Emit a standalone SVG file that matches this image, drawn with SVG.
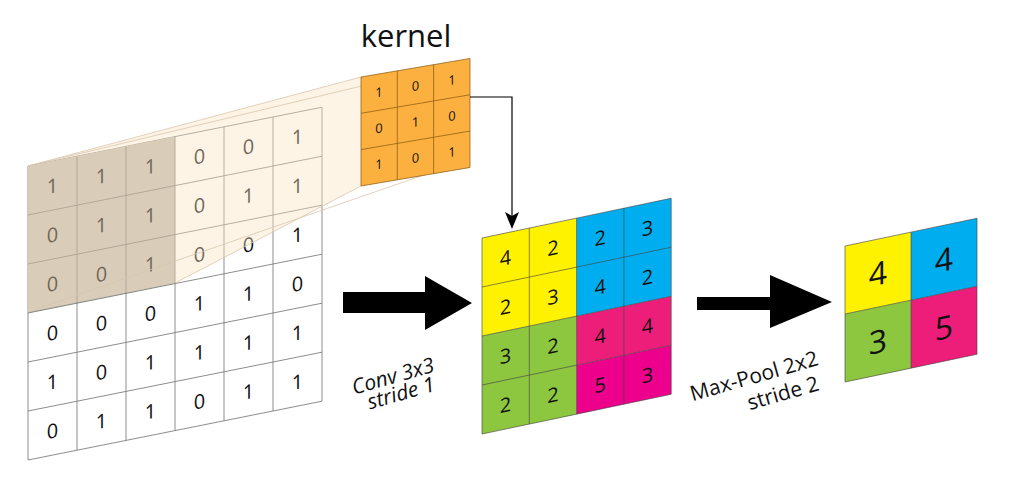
<svg xmlns="http://www.w3.org/2000/svg" width="1024" height="479" viewBox="0 0 1024 479">
<style>
.g{stroke:#777;stroke-width:0.8}
.k{stroke:#8a5a10;stroke-width:0.7}
.c{stroke:#444;stroke-width:0.6}
text{font-family:"Open Sans","DejaVu Sans",sans-serif;text-anchor:middle;fill:#111}
.lbl{font-family:"Liberation Serif",serif;font-size:21px}
</style>
<rect width="1024" height="479" fill="#fff"/>
<g id="input" transform="matrix(1,-0.2,0,1,28,166)">
<rect width="294" height="294" fill="#fff" class="g"/>
<rect width="147" height="147" fill="#c4bcb2"/>
<g class="g" fill="none">
<path d="M49 0V294M98 0V294M147 0V294M196 0V294M245 0V294M0 49H294M0 98H294M0 147H294M0 196H294M0 245H294"/>
</g>
<g font-size="20">
<text x="24.5" y="32">1</text><text x="73.5" y="32">1</text><text x="122.5" y="32">1</text><text x="171.5" y="32">0</text><text x="220.5" y="32">0</text><text x="269.5" y="32">1</text>
<text x="24.5" y="81">0</text><text x="73.5" y="81">1</text><text x="122.5" y="81">1</text><text x="171.5" y="81">0</text><text x="220.5" y="81">1</text><text x="269.5" y="81">1</text>
<text x="24.5" y="130">0</text><text x="73.5" y="130">0</text><text x="122.5" y="130">1</text><text x="171.5" y="130">0</text><text x="220.5" y="130">0</text><text x="269.5" y="130">1</text>
<text x="24.5" y="179">0</text><text x="73.5" y="179">0</text><text x="122.5" y="179">0</text><text x="171.5" y="179">1</text><text x="220.5" y="179">1</text><text x="269.5" y="179">0</text>
<text x="24.5" y="228">1</text><text x="73.5" y="228">0</text><text x="122.5" y="228">1</text><text x="171.5" y="228">1</text><text x="220.5" y="228">1</text><text x="269.5" y="228">1</text>
<text x="24.5" y="277">0</text><text x="73.5" y="277">1</text><text x="122.5" y="277">1</text><text x="171.5" y="277">0</text><text x="220.5" y="277">1</text><text x="269.5" y="277">1</text>
</g>
</g>
<g id="projection">
<polygon points="28,166 361,77 361,186 175,283 28,312" fill="#fbe3c0" opacity="0.4"/>
<path d="M28,166L361,77M28,166L470,60M28,312L470,159M175,283L361,186" stroke="#d9c6ad" stroke-width="0.8" fill="none"/>
</g>
<g id="kernel" transform="matrix(1,-0.17,0,1,361,77)">
<rect width="109" height="109" fill="#fbb040" class="k"/>
<path class="k" d="M36.3 0V109M72.6 0V109M0 36.3H109M0 72.6H109"/>
<g font-size="13">
<text x="18" y="23">1</text><text x="54.5" y="23">0</text><text x="91" y="23">1</text>
<text x="18" y="59">0</text><text x="54.5" y="59">1</text><text x="91" y="59">0</text>
<text x="18" y="95">1</text><text x="54.5" y="95">0</text><text x="91" y="95">1</text>
</g>
</g>
<text x="406" y="47" font-family="Liberation Serif,serif" font-size="31" style="text-anchor:middle">kernel</text>
<g id="conv" transform="matrix(1,-0.21,0,1,482,238)">
<rect x="0" y="0" width="94.6" height="98" fill="#fff200"/>
<rect x="94.6" y="0" width="94.6" height="98" fill="#00aeef"/>
<rect x="0" y="98" width="94.6" height="98" fill="#8dc63f"/>
<rect x="94.6" y="98" width="94.6" height="49" fill="#ed1e79"/>
<rect x="94.6" y="147" width="94.6" height="49" fill="#ec008c"/>
<path class="c" fill="none" d="M0 0H189.2V196H0ZM47.3 0V196M94.6 0V196M141.9 0V196M0 49H189.2M0 98H189.2M0 147H189.2"/>
<g font-size="20">
<text x="23.6" y="32">4</text><text x="71" y="32">2</text><text x="118.2" y="32">2</text><text x="165.5" y="32">3</text>
<text x="23.6" y="81">2</text><text x="71" y="81">3</text><text x="118.2" y="81">4</text><text x="165.5" y="81">2</text>
<text x="23.6" y="130">3</text><text x="71" y="130">2</text><text x="118.2" y="130">4</text><text x="165.5" y="130">4</text>
<text x="23.6" y="179">2</text><text x="71" y="179">2</text><text x="118.2" y="179">5</text><text x="165.5" y="179">3</text>
</g>
</g>
<g id="pool" transform="matrix(1,-0.21,0,1,845,246)">
<rect x="0" y="0" width="66" height="68" fill="#fff200"/>
<rect x="66" y="0" width="66" height="68" fill="#00aeef"/>
<rect x="0" y="68" width="66" height="68" fill="#8dc63f"/>
<rect x="66" y="68" width="66" height="68" fill="#ed1e79"/>
<path class="c" fill="none" d="M0 0H132V136H0ZM66 0V136M0 68H132"/>
<g font-size="32">
<text x="33" y="46">4</text><text x="99" y="46">4</text>
<text x="33" y="114">3</text><text x="99" y="114">5</text>
</g>
</g>
<g id="connectors">
<path d="M470,97H512V222" fill="none" stroke="#000" stroke-width="1.2"/>
<path d="M512,229L505,212L512,216L519,212Z" fill="#000"/>
<path d="M343,292H425V276L472,303L425,330V313H343Z" fill="#000"/>
<path d="M697,297H770V275L832,302L770,328V310H697Z" fill="#000"/>
</g>
<g id="labels" class="lbl" font-style="italic">
<text transform="translate(395,383) rotate(-16)" font-family="Liberation Serif,serif" font-size="21">Conv 3x3</text>
<text transform="translate(403,400) rotate(-16)" font-family="Liberation Serif,serif" font-size="21">stride 1</text>
</g>
<g id="labels2">
<text transform="translate(756,383) rotate(-16)" font-family="Liberation Serif,serif" font-size="21">Max-Pool 2x2</text>
<text transform="translate(785,400) rotate(-16)" font-family="Liberation Serif,serif" font-size="21">stride 2</text>
</g>
</svg>
